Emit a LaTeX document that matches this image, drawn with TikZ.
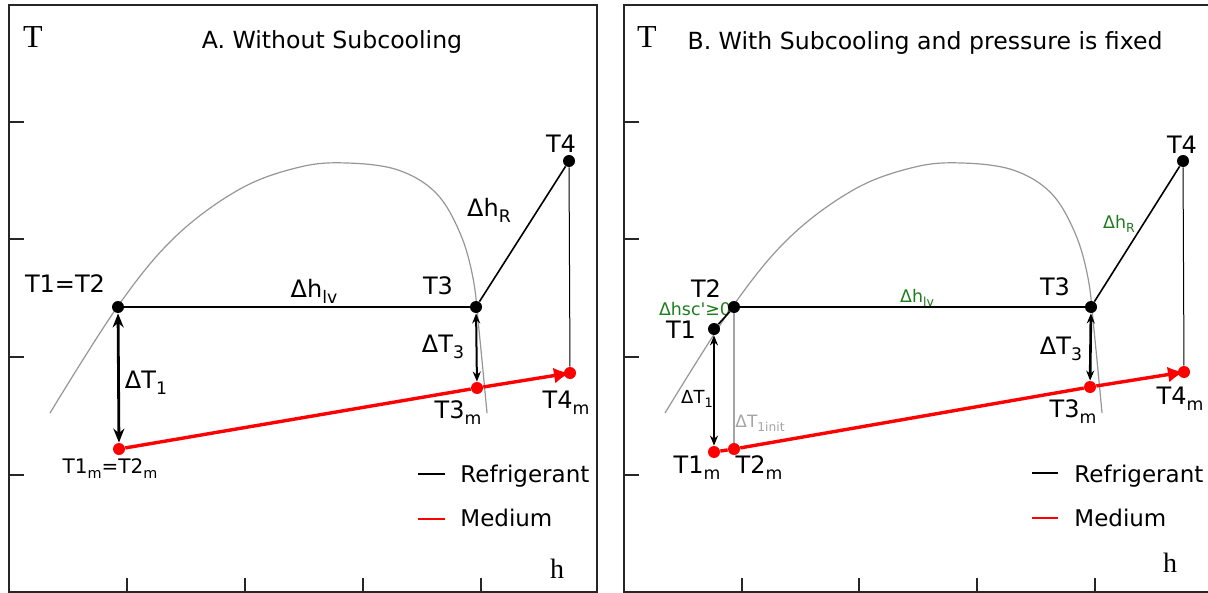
\documentclass[tikz,border=0pt]{standalone}
\usepackage{fontspec}
\setmainfont{DejaVu Sans}
\newfontfamily\axisfont{Liberation Serif}
\usetikzlibrary{arrows.meta}
\definecolor{dgreen}{RGB}{30,125,30}
\definecolor{domegray}{RGB}{150,150,150}
\definecolor{initgray}{RGB}{165,165,165}
\newcommand{\sbs}[1]{\raisebox{-0.25em}{\scalebox{0.72}{#1}}}
\newcommand{\fsz}[1]{\fontsize{#1}{#1}\selectfont}
\newcommand{\domecurve}{plot[smooth, tension=0.6] coordinates {(50,413) (118,306) (175,237) (240,189) (300,167) (347,163) (398,170) (436,193) (460,233) (473,278) (479,330) (487,413)}}
\begin{document}
\begin{tikzpicture}[x=0.5pt,y=-0.5pt,
  panelframe/.style={line width=1pt, draw=black!85},
  tickmark/.style={line width=1pt, draw=black!85},
  dome/.style={draw=domegray, line width=0.6pt},
  refr/.style={line width=0.8pt},
  hairline/.style={line width=0.5pt},
  medline/.style={draw=red, line width=1.7pt},
  dot/.style={circle, fill=black, inner sep=0pt, minimum size=6pt},
  rdot/.style={dot, fill=red},
  biglbl/.style={font=\fsz{12}, anchor=base, inner sep=0pt},
  smalllbl/.style={font=\fsz{10}, anchor=base, inner sep=0pt},
  greenlbl/.style={font=\fsz{8.7}, anchor=base, inner sep=0pt, text=dgreen},
  titlelbl/.style={font=\fsz{11.8}, anchor=base, inner sep=0pt},
  legendlbl/.style={font=\fsz{11.5}, anchor=base west, inner sep=0pt},
  axislbl/.style={font=\axisfont\fsz{16}, anchor=base, inner sep=0pt},
  dblarrow/.style={{Stealth[length=7pt 0 0,width=5.5pt 0 0]}-{Stealth[length=7pt 0 0,width=5.5pt 0 0]}},
  thinarrow/.style={{Stealth[length=5pt 0 0,width=4pt 0 0]}-{Stealth[length=5pt 0 0,width=4pt 0 0]}},
  medtip/.style={-{Latex[length=8pt 0 0,width=8pt 0 0]}},
]
\path[use as bounding box] (0,0) rectangle (1208,593);

% ---------------- Panel A ----------------
\draw[panelframe] (9,592) -- (9,5) -- (597,5) -- (597,592) -- cycle;
\foreach \yy in {122,239,357,475} \draw[tickmark] (9,\yy) -- (24,\yy);
\foreach \xx in {127,245,363,481} \draw[tickmark] (\xx,592) -- (\xx,578);
\draw[dome] \domecurve;

\node[axislbl] (TaxA) at (33,48) {T};
\node[axislbl, font=\axisfont\fsz{14}] (haxA) at (557,578) {h};
\node[titlelbl] (titA) at (332,49) {A. Without Subcooling};
\node[biglbl] (lT12) at (65,292) {T1=T2};
\node[biglbl] (lhlv) at (314,297) {Δh\sbs{lv}};
\node[biglbl] (lT3) at (438,294) {T3};
\node[biglbl] (lhR) at (489,216) {Δh\sbs{R}};
\node[biglbl] (lT4) at (561,153) {T4};
\node[biglbl] (ldT1) at (146,388) {ΔT\sbs{1}};
\node[biglbl] (ldT3) at (443,352) {ΔT\sbs{3}};
\node[biglbl] (lT3m) at (458,418) {T3\sbs{m}};
\node[biglbl] (lT4m) at (566,408) {T4\sbs{m}};
\node[smalllbl] (lT1m) at (110,473) {T1\sbs{m}=T2\sbs{m}};
\node[legendlbl] (lgRa) at (460,482) {Refrigerant};
\node[legendlbl] (lgMa) at (460,526) {Medium};
\coordinate (lgA1) at (418,474); \coordinate (lgA2) at (445,474);
\coordinate (lgA3) at (418,519); \coordinate (lgA4) at (445,519);
\draw[refr] (lgA1) -- (lgA2);
\draw[medline, line width=1.2pt] (lgA3) -- (lgA4);

\node[dot] (T12a) at (118,307) {};
\node[dot] (T3a) at (476,307) {};
\node[dot] (T4a) at (569,161) {};
\node[rdot] (T1ma) at (119,449) {};
\node[rdot] (T3ma) at (477,388) {};
\node[rdot] (T4ma) at (570,373) {};

\draw[refr] (T12a) -- (T3a);
\draw[refr] (T3a) -- (T4a);
\draw[hairline] (T4a) -- (T4ma);
\draw[medline] (T1ma) -- (T3ma);
\draw[medline, medtip] (T3ma) -- (T4ma.center);
\draw[line width=1.4pt, dblarrow] (T12a) -- (T1ma);
\draw[line width=1pt, thinarrow] (T3a) -- (T3ma);

% ---------------- Panel B ----------------
\draw[panelframe] (1212,5) -- (624,5) -- (624,592) -- (1212,592);
\foreach \yy in {122,239,357,475} \draw[tickmark] (624,\yy) -- (639,\yy);
\foreach \xx in {742,859,977,1095} \draw[tickmark] (\xx,592) -- (\xx,578);
\begin{scope}[xshift=307.5pt]
\draw[dome] \domecurve;
\end{scope}

\node[axislbl] (TaxB) at (647,48) {T};
\node[axislbl, font=\axisfont\fsz{14}] (haxB) at (1170,572) {h};
\node[titlelbl] (titB) at (925,50) {B. With Subcooling and pressure is fixed};
\node[biglbl] (rT2) at (706,297) {T2};
\node[greenlbl] (rhsc) at (695,315) {Δhsc\textquotesingle≥0};
\node[biglbl] (rT1) at (681,338) {T1};
\node[biglbl, font=\fsz{9}] (rdT1) at (697,403) {ΔT\sbs{1}};
\node[biglbl, font=\fsz{8.5}, text=initgray] (rdT1i) at (760,427) {ΔT\sbs{1init}};
\node[biglbl] (rT1m) at (697,473) {T1\sbs{m}};
\node[biglbl] (rT2m) at (759,473) {T2\sbs{m}};
\node[greenlbl] (rhlv) at (917,302) {Δh\sbs{lv}};
\node[biglbl] (rT3) at (1055,295) {T3};
\node[biglbl] (rdT3) at (1061,354) {ΔT\sbs{3}};
\node[biglbl] (rT3m) at (1073,417) {T3\sbs{m}};
\node[biglbl] (rT4m) at (1180,404) {T4\sbs{m}};
\node[biglbl] (rT4) at (1182,154) {T4};
\node[greenlbl] (rhR) at (1119,228) {Δh\sbs{R}};
\node[legendlbl] (lgRb) at (1074,482) {Refrigerant};
\node[legendlbl] (lgMb) at (1074,526) {Medium};
\coordinate (lgB1) at (1032,473); \coordinate (lgB2) at (1058,473);
\coordinate (lgB3) at (1032,518); \coordinate (lgB4) at (1058,518);
\draw[refr] (lgB1) -- (lgB2);
\draw[medline, line width=1.2pt] (lgB3) -- (lgB4);

\node[dot] (T2b) at (734,307) {};
\node[dot] (T1b) at (714,329) {};
\node[dot] (T3b) at (1091,307) {};
\node[dot] (T4b) at (1183,161) {};
\node[rdot] (T1mb) at (714,452) {};
\node[rdot] (T2mb) at (734,449) {};
\node[rdot] (T3mb) at (1090,387) {};
\node[rdot] (T4mb) at (1184,372) {};

\draw[draw=initgray, line width=0.6pt] (T2b) -- (T2mb);
\draw[refr] (T1b) -- (T2b);
\draw[refr] (T2b) -- (T3b);
\draw[refr] (T3b) -- (T4b);
\draw[hairline] (T4b) -- (T4mb);
\draw[medline] (T1mb) -- (T2mb);
\draw[medline] (T2mb) -- (T3mb);
\draw[medline, medtip] (T3mb) -- (T4mb.center);
\draw[line width=0.9pt, thinarrow] (T1b) -- (T1mb);
\draw[line width=1.3pt, thinarrow] (T3b) -- (T3mb);
\end{tikzpicture}
\end{document}
